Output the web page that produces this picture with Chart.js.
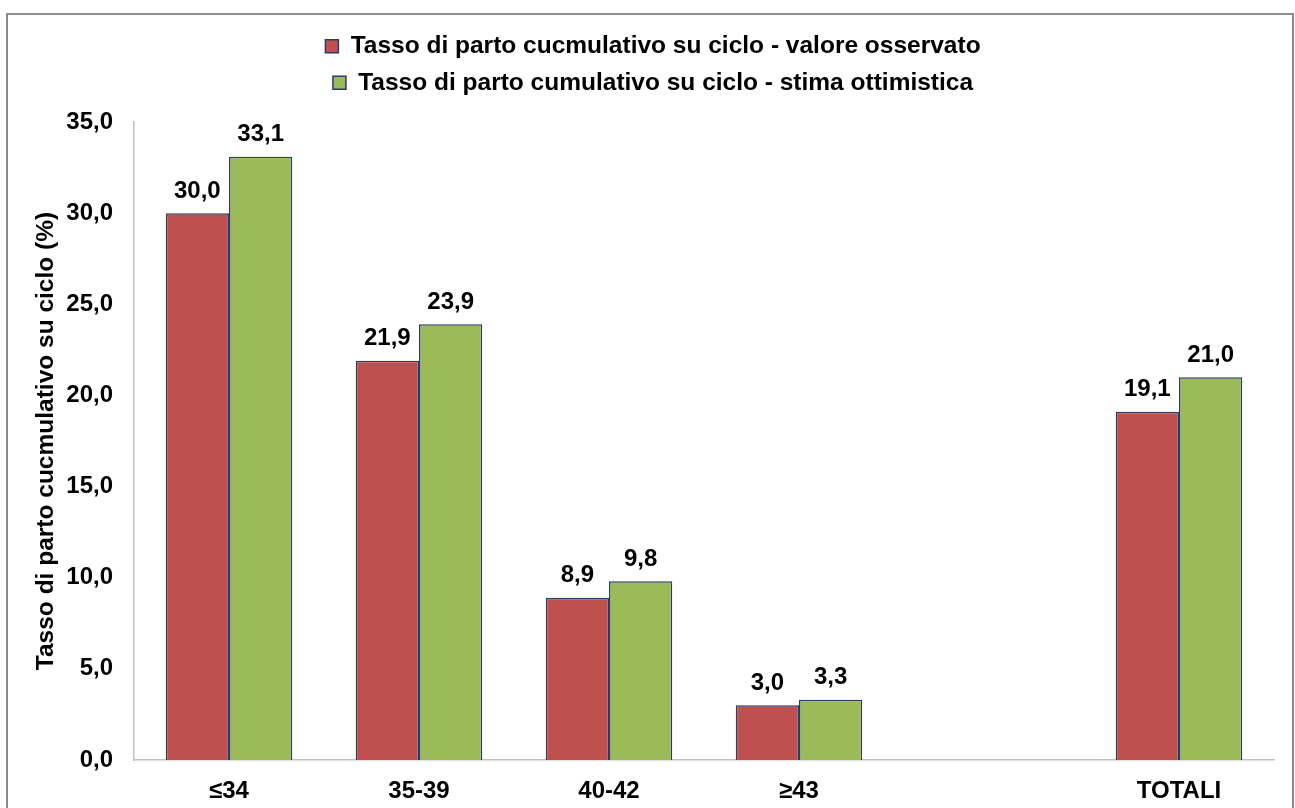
<!DOCTYPE html>
<html>
  <head>
    <title>Tasso di parto cumulativo</title>
    <script src="https://cdn.jsdelivr.net/npm/chart.js"></script>
    <style>
      body { margin: 0; background: #fff; }
      #wrap { width: 1295px; height: 808px; }
    </style>
  </head>
  <body>
    <div id="wrap"><canvas id="barChart"></canvas></div>

    <script>
      const labels = ['≤34', '35-39', '40-42', '≥43', '', 'TOTALI'];
      const osservato = [30.0, 21.9, 8.9, 3.0, null, 19.1];
      const ottimistica = [33.1, 23.9, 9.8, 3.3, null, 21.0];
      const yTicks = [0, 5, 10, 15, 20, 25, 30, 35];

      const fmt = v => v.toFixed(1).replace('.', ',');
      const FONT = '"Liberation Sans", Arial, sans-serif';

      // grey frame round the whole chart
      const framePlugin = {
        id: 'frame',
        beforeDraw(chart) {
          const c = chart.ctx;
          c.save();
          c.strokeStyle = '#8c8c8c';
          c.lineWidth = 2;
          c.strokeRect(7, 14, 1286, 830);
          c.restore();
        }
      };

      // value labels above each bar
      const valuePlugin = {
        id: 'values',
        afterDatasetsDraw(chart) {
          const c = chart.ctx;
          c.save();
          c.font = 'bold 24px ' + FONT;
          c.fillStyle = '#000';
          c.textAlign = 'center';
          c.textBaseline = 'middle';
          chart.data.datasets.forEach((ds, i) => {
            chart.getDatasetMeta(i).data.forEach((bar, j) => {
              const v = ds.data[j];
              if (v == null) return;
              c.fillText(fmt(v), bar.x, bar.y - 22);
            });
          });
          c.restore();
        }
      };

      const ctx = document.getElementById('barChart').getContext('2d');
      const barChart = new Chart(ctx, {
        type: 'bar',
        data: {
          labels: labels,
          datasets: [{
            label: 'Tasso di parto cucmulativo su ciclo - valore osservato',
            data: osservato,
            backgroundColor: '#C0504D',
            borderColor: '#2A3B66',
            borderWidth: 1.5
          }, {
            label: 'Tasso di parto cumulativo su ciclo - stima ottimistica',
            data: ottimistica,
            backgroundColor: '#9BBB59',
            borderColor: '#2A3B66',
            borderWidth: 1.5
          }]
        },
        options: {
          responsive: true,
          maintainAspectRatio: false,
          animation: false,
          datasets: {
            bar: { categoryPercentage: 0.666, barPercentage: 1 }
          },
          layout: { padding: { left: 32, right: 21, top: 22, bottom: 0 } },
          plugins: {
            tooltip: { enabled: false },
            legend: {
              position: 'top',
              labels: {
                boxWidth: 13,
                boxHeight: 13,
                padding: 12,
                color: '#000',
                font: { family: FONT, size: 24.5, weight: 'bold', lineHeight: 1 }
              }
            },
            subtitle: {
              display: true,
              text: ' ',
              weight: 500,
              font: { size: 10, lineHeight: 1 },
              padding: { top: 0, bottom: 7 }
            }
          },
          scales: {
            x: {
              grid: { display: false },
              border: { display: true, color: '#c0c0c0', width: 1.5 },
              ticks: {
                color: '#000',
                padding: 9,
                font: { family: FONT, size: 24, weight: 'bold' }
              },
              afterFit(scale) { scale.height = 48; }
            },
            y: {
              min: 0,
              max: 35,
              grid: { display: false },
              border: { display: true, color: '#c0c0c0', width: 1.5 },
              afterBuildTicks(scale) { scale.ticks = yTicks.map(v => ({ value: v })); },
              ticks: {
                color: '#000',
                padding: 13,
                font: { family: FONT, size: 24, weight: 'bold' },
                callback: v => fmt(v)
              },
              title: {
                display: true,
                text: 'Tasso di parto cucmulativo su ciclo (%)',
                color: '#000',
                padding: { top: 2, bottom: 0 },
                font: { family: FONT, size: 24.5, weight: 'bold', lineHeight: 1 }
              },
              afterFit(scale) { scale.width = 102; }
            }
          }
        },
        plugins: [framePlugin, valuePlugin]
      });
    </script>
  </body>
</html>
